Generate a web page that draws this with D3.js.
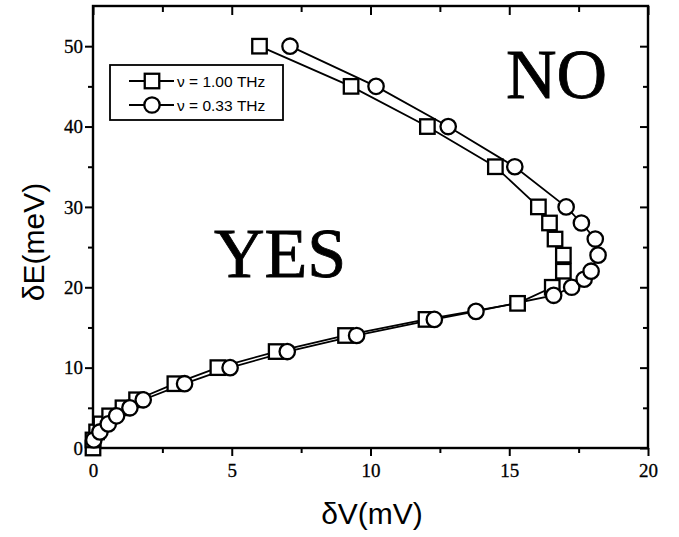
<!DOCTYPE html>
<meta charset="utf-8">
<script src="https://d3js.org/d3.v7.min.js"></script>
<style>
  body { margin: 0; background: #fff; }
  svg { display: block; }
</style>
<div id="chart"></div>
<script>
// series 1: nu = 1.00 THz (squares)
var sqV = [0, 0, 0.13, 0.29, 0.6, 1.08, 1.57, 2.95, 4.5, 6.6, 9.1, 12.0, 15.3, 16.55, 16.95, 16.95, 16.65, 16.45, 16.05, 14.5, 12.05, 9.3, 6.0];
var sqE = [0, 1, 2, 3, 4, 5, 6, 8, 10, 12, 14, 16, 18, 20, 22, 24, 26, 28, 30, 35, 40, 45, 50];

// series 2: nu = 0.33 THz (circles)
var ciV = [0.03, 0.25, 0.55, 0.85, 1.33, 1.81, 3.3, 4.94, 7.0, 9.5, 12.3, 13.8, 16.6, 17.25, 17.7, 17.95, 18.2, 18.1, 17.6, 17.05, 15.2, 12.8, 10.2, 7.1];
var ciE = [1, 2, 3, 4, 5, 6, 8, 10, 12, 14, 16, 17, 19, 20, 21, 22, 24, 26, 28, 30, 35, 40, 45, 50];

var xTicks = [0, 5, 10, 15, 20];
var xMinor = [2.5, 7.5, 12.5, 17.5];
var yTicks = [0, 10, 20, 30, 40, 50];
var yMinor = [5, 15, 25, 35, 45];
var legendLabels = ["\u03bd = 1.00 THz", "\u03bd = 0.33 THz"];

var W = 679, H = 537;
var svg = d3.select("#chart").append("svg").attr("width", W).attr("height", H);

var x = d3.scaleLinear().domain([0, 20]).range([93, 648]);
var y = d3.scaleLinear().domain([0, 55]).range([448, 6]);

var serif = "'Liberation Serif', 'Times New Roman', serif";
var sans = "'Liberation Sans', Arial, sans-serif";

// frame
svg.append("rect")
    .attr("x", x(0)).attr("y", y(55))
    .attr("width", x(20) - x(0)).attr("height", y(0) - y(55))
    .attr("fill", "none").attr("stroke", "#000").attr("stroke-width", 2.4);

// axes (outer ticks bottom/left, inner ticks top/right)
function axisTicks(g, scale, vals, len, labels) {
    g.call(scale.tickValues(vals).tickSize(len).tickFormat(labels ? d3.format("d") : ""));
    g.select(".domain").remove();
    g.selectAll(".tick line").attr("stroke", "#000").attr("stroke-width", 2);
    g.selectAll(".tick text").style("font-family", serif).style("font-size", "19px")
        .attr("fill", "#000").attr("stroke", "#000").attr("stroke-width", 0.3);
}

var gb = svg.append("g").attr("transform", "translate(0," + y(0) + ")");
axisTicks(gb.append("g"), d3.axisBottom(x), xTicks, 8, true);
axisTicks(gb.append("g"), d3.axisBottom(x), xMinor, 5, false);
gb.selectAll(".tick text").attr("dy", "0.95em");

var gl = svg.append("g").attr("transform", "translate(" + x(0) + ",0)");
axisTicks(gl.append("g"), d3.axisLeft(y), yTicks, 8, true);
axisTicks(gl.append("g"), d3.axisLeft(y), yMinor, 5, false);
gl.selectAll(".tick text").attr("x", -10);

var gt = svg.append("g").attr("transform", "translate(0," + y(55) + ")");
axisTicks(gt.append("g"), d3.axisBottom(x), xTicks, 9, false);
axisTicks(gt.append("g"), d3.axisBottom(x), xMinor, 6, false);

var gr = svg.append("g").attr("transform", "translate(" + x(20) + ",0)");
axisTicks(gr.append("g"), d3.axisLeft(y), yTicks, 8, false);
axisTicks(gr.append("g"), d3.axisLeft(y), yMinor, 5, false);

// axis titles
svg.append("text")
    .attr("x", 372).attr("y", 524)
    .attr("text-anchor", "middle")
    .style("font-family", sans).style("font-size", "30px")
    .text("\u03b4V(mV)");

svg.append("text")
    .attr("transform", "translate(44,242) rotate(-90)")
    .attr("text-anchor", "middle")
    .style("font-family", sans).style("font-size", "30px")
    .text("\u03b4E(meV)");

// region labels
svg.append("text").attr("x", 214).attr("y", 277)
    .attr("stroke", "#000").attr("stroke-width", 0.8)
    .style("font-family", serif).style("font-size", "70px").text("YES");
svg.append("text").attr("x", 506).attr("y", 98)
    .attr("stroke", "#000").attr("stroke-width", 0.8)
    .style("font-family", serif).style("font-size", "70px").text("NO");

var line = d3.line().x(function(d) { return x(d[0]); }).y(function(d) { return y(d[1]); });

var sqData = d3.zip(sqV, sqE);
var ciData = d3.zip(ciV, ciE);
var S = 14.5, R = 7.7;

function square(g, cx, cy) {
    g.append("rect").attr("x", cx - S / 2).attr("y", cy - S / 2)
        .attr("width", S).attr("height", S)
        .attr("fill", "#fff").attr("stroke", "#000").attr("stroke-width", 2.3);
}
function circle(g, cx, cy) {
    g.append("circle").attr("cx", cx).attr("cy", cy).attr("r", R)
        .attr("fill", "#fff").attr("stroke", "#000").attr("stroke-width", 2.3);
}

var plot = svg.append("g");
plot.append("path").datum(sqData).attr("d", line)
    .attr("fill", "none").attr("stroke", "#000").attr("stroke-width", 1.8);
plot.append("path").datum(ciData).attr("d", line)
    .attr("fill", "none").attr("stroke", "#000").attr("stroke-width", 1.8);
sqData.forEach(function(d) { square(plot, x(d[0]), y(d[1])); });
ciData.forEach(function(d) { circle(plot, x(d[0]), y(d[1])); });

// legend
var lg = svg.append("g");
lg.append("rect").attr("x", 110).attr("y", 65).attr("width", 173).attr("height", 55)
    .attr("fill", "#fff").attr("stroke", "#000").attr("stroke-width", 1.8);
legendLabels.forEach(function(t, i) {
    var ly = 81 + i * 24;
    lg.append("line").attr("x1", 129).attr("x2", 174).attr("y1", ly).attr("y2", ly)
        .attr("stroke", "#000").attr("stroke-width", 2.2);
    if (i === 0) square(lg, 152, ly); else circle(lg, 152, ly);
    lg.append("text").attr("x", 177).attr("y", ly + 5.5)
        .style("font-family", sans).style("font-size", "15.5px").text(t);
});
</script>
